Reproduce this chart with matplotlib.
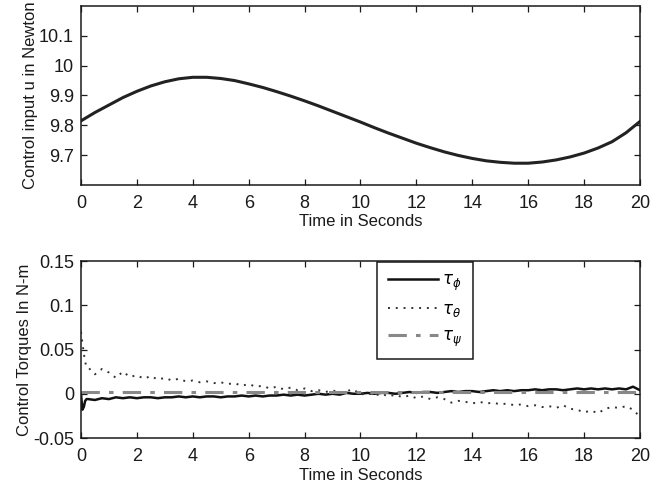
import numpy as np
import matplotlib
matplotlib.use("Agg")
import matplotlib.pyplot as plt
from matplotlib.ticker import FormatStrFormatter

plt.rcParams['font.family'] = ['Liberation Sans', 'DejaVu Sans']
plt.rcParams['mathtext.fontset'] = 'dejavusans'

# ---- data: top panel (control input u) ----
t_u = [0, 0.5, 1, 1.5, 2, 2.5, 3, 3.5, 4, 4.5, 5, 5.5, 6, 6.5, 7, 7.5, 8, 8.5, 9, 9.5,
       10, 10.5, 11, 11.5, 12, 12.5, 13, 13.5, 14, 14.5, 15, 15.5, 16, 16.5, 17, 17.5,
       18, 18.5, 19, 19.5, 20]
u_vals = [9.815, 9.843, 9.868, 9.893, 9.914, 9.932, 9.946, 9.956, 9.961, 9.961, 9.957,
          9.950, 9.939, 9.927, 9.913, 9.898, 9.882, 9.865, 9.847, 9.829, 9.811, 9.792,
          9.774, 9.757, 9.740, 9.725, 9.711, 9.699, 9.689, 9.681, 9.676, 9.673, 9.673,
          9.677, 9.684, 9.694, 9.707, 9.724, 9.745, 9.775, 9.813]

# ---- data: bottom panel (control torques) ----
t_start = [0.0, 0.05, 0.1, 0.15, 0.2]
t_main = list(np.arange(0.25, 20.01, 0.25))

tau_phi_start = [0.000, -0.018, -0.015, -0.008, -0.006]
tau_phi_main = [-0.006, -0.007, -0.005, -0.006, -0.004, -0.005, -0.004, -0.005, -0.004, -0.004,
                -0.005, -0.004, -0.004, -0.003, -0.004, -0.003, -0.004, -0.003, -0.003, -0.004,
                -0.003, -0.003, -0.002, -0.003, -0.002, -0.003, -0.002, -0.002, -0.001, -0.002,
                -0.001, -0.002, -0.001, 0.000, -0.001, 0.000, -0.001, 0.001, 0.000, 0.000,
                0.001, 0.000, 0.001, 0.001, 0.000, 0.001, 0.002, 0.001, 0.002, 0.002,
                0.001, 0.002, 0.003, 0.002, 0.003, 0.003, 0.002, 0.003, 0.004, 0.003,
                0.004, 0.003, 0.004, 0.004, 0.005, 0.004, 0.005, 0.005, 0.004, 0.005,
                0.006, 0.005, 0.006, 0.005, 0.006, 0.005, 0.006, 0.005, 0.008, 0.004]

tau_theta_start = [0.070, 0.058, 0.046, 0.036, 0.030]
tau_theta_main = [0.030, 0.022, 0.028, 0.024, 0.018, 0.025, 0.019, 0.021, 0.017, 0.020,
                  0.016, 0.018, 0.015, 0.017, 0.014, 0.015, 0.013, 0.014, 0.012, 0.013,
                  0.011, 0.012, 0.009, 0.011, 0.008, 0.009, 0.006, 0.008, 0.005, 0.007,
                  0.004, 0.006, 0.003, 0.004, 0.002, 0.004, 0.001, 0.003, 0.005, -0.001,
                  0.001, -0.002, 0.000, -0.003, -0.001, -0.004, -0.002, -0.005, -0.003, -0.006,
                  -0.004, -0.006, -0.010, -0.008, -0.009, -0.011, -0.009, -0.011, -0.010, -0.012,
                  -0.011, -0.013, -0.012, -0.014, -0.013, -0.015, -0.014, -0.016, -0.013, -0.017,
                  -0.018, -0.021, -0.019, -0.022, -0.017, -0.015, -0.016, -0.014, -0.018, -0.026]

t_psi = [0, 5, 10, 15, 20]
tau_psi = [0.0015, 0.0015, 0.0015, 0.0015, 0.0015]

labels = [r'$\tau_\phi$', r'$\tau_\theta$', r'$\tau_\psi$']
u_xticks = list(range(0, 21, 2))
u_yticks = [9.7, 9.8, 9.9, 10.0, 10.1]
tq_yticks = [-0.05, 0, 0.05, 0.1, 0.15]

fig = plt.figure(figsize=(6.51, 4.84), dpi=100)
ax1 = fig.add_axes([0.1244, 0.6178, 0.8587, 0.3698])
ax2 = fig.add_axes([0.1244, 0.095, 0.8587, 0.3657])

fs = 12
tfs = 13
txt = '#1a1a1a'

def style(ax):
    ax.tick_params(direction='in', top=True, right=True, length=4, width=0.9,
                   labelsize=tfs, pad=5, colors=txt)
    ax.tick_params(axis='x', pad=7)
    for s in ax.spines.values():
        s.set_linewidth(1.1)
        s.set_color(txt)

ax1.plot(t_u, u_vals, color='#222222', lw=2.2)
ax1.set_xlim(0, 20)
ax1.set_ylim(9.6, 10.2)
ax1.set_xticks(u_xticks)
ax1.set_yticks(u_yticks)
ax1.yaxis.set_major_formatter(FormatStrFormatter('%g'))
ax1.set_xlabel('Time in Seconds', fontsize=fs, labelpad=1.5, color=txt)
ax1.set_ylabel('Control input u in Newton', fontsize=fs, labelpad=1, color=txt)
style(ax1)

t_all = t_start + t_main
ax2.plot(t_all, tau_phi_start + tau_phi_main, color='#111111', lw=1.8, label=labels[0])
ax2.plot(t_all, tau_theta_start + tau_theta_main, color='#333333', lw=1.4,
         linestyle=(0, (1, 3)), label=labels[1])
ax2.plot(t_psi, tau_psi, color='#888888', lw=2.2, linestyle=(0, (6, 3, 1.5, 3)),
         label=labels[2])
ax2.set_xlim(0, 20)
ax2.set_ylim(-0.05, 0.15)
ax2.set_xticks(u_xticks)
ax2.set_yticks(tq_yticks)
ax2.yaxis.set_major_formatter(FormatStrFormatter('%g'))
ax2.set_xlabel('Time in Seconds', fontsize=fs, labelpad=2, color=txt)
ax2.set_ylabel('Control Torques In N-m', fontsize=fs, labelpad=1, color=txt)
style(ax2)

leg = ax2.legend(loc='upper left', bbox_to_anchor=(0.5295, 0.994), borderaxespad=0,
                 fontsize=fs, handlelength=3.0, labelspacing=0.55, borderpad=0.65,
                 handletextpad=0.25, fancybox=False, framealpha=1, edgecolor=txt)
leg.get_frame().set_linewidth(1.1)

fig.savefig('out.png', dpi=100)
